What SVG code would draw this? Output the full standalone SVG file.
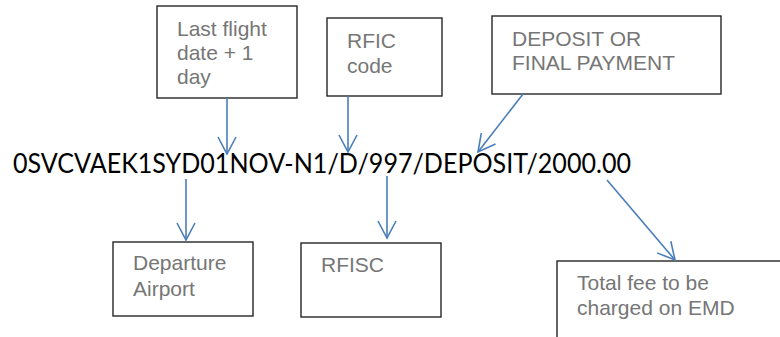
<svg xmlns="http://www.w3.org/2000/svg" width="780" height="337" viewBox="0 0 780 337">
<style>
.box{fill:#fff;stroke:#262626;stroke-width:1.4}
.lbl{font-family:"Liberation Sans",Arial,sans-serif;font-size:21px;fill:#767676}
.code{font-family:Lato,"Open Sans",sans-serif;font-size:26px;fill:#000}
.conn{stroke:#4a7ebb;stroke-width:1.6;fill:none}
</style>
<defs>
<marker id="arr" viewBox="0 0 20 20" refX="18" refY="10" markerWidth="20" markerHeight="20" markerUnits="userSpaceOnUse" orient="auto">
<path d="M1,1 L18,10 L1,19" fill="none" stroke="#4a7ebb" stroke-width="1.6"/>
</marker>
</defs>
<rect width="780" height="337" fill="#fff"/>
<g id="n-lastflight">
<rect class="box" x="157" y="6" width="140" height="92"/>
<text class="lbl" x="177" y="36">Last flight</text>
<text class="lbl" x="177" y="60">date + 1</text>
<text class="lbl" x="177" y="84">day</text>
</g>
<g id="n-rfic">
<rect class="box" x="327" y="18" width="115" height="78"/>
<text class="lbl" x="347" y="48">RFIC</text>
<text class="lbl" x="347" y="73">code</text>
</g>
<g id="n-deposit">
<rect class="box" x="492" y="16" width="229" height="78"/>
<text class="lbl" x="512" y="46">DEPOSIT OR</text>
<text class="lbl" x="512" y="70">FINAL PAYMENT</text>
</g>
<g id="n-code">
<text class="code" x="13" y="173" textLength="618" lengthAdjust="spacingAndGlyphs">0SVCVAEK1SYD01NOV-N1/D/997/DEPOSIT/2000.00</text>
</g>
<g id="n-departure">
<rect class="box" x="113" y="242" width="140" height="74"/>
<text class="lbl" x="133" y="270">Departure</text>
<text class="lbl" x="133" y="296">Airport</text>
</g>
<g id="n-rfisc">
<rect class="box" x="301" y="243" width="140" height="74"/>
<text class="lbl" x="321" y="272">RFISC</text>
</g>
<g id="n-total">
<rect class="box" x="557" y="261" width="240" height="100"/>
<text class="lbl" x="577" y="290">Total fee to be</text>
<text class="lbl" x="577" y="315">charged on EMD</text>
</g>
<g id="connectors">
<line class="conn" x1="227" y1="98" x2="227" y2="154" marker-end="url(#arr)"/>
<line class="conn" x1="348" y1="96" x2="348" y2="152" marker-end="url(#arr)"/>
<line class="conn" x1="523" y1="94" x2="478" y2="152" marker-end="url(#arr)"/>
<line class="conn" x1="186" y1="179" x2="186" y2="240" marker-end="url(#arr)"/>
<line class="conn" x1="387" y1="176" x2="387" y2="238" marker-end="url(#arr)"/>
<line class="conn" x1="607" y1="180" x2="675" y2="260" marker-end="url(#arr)"/>
</g>
</svg>
